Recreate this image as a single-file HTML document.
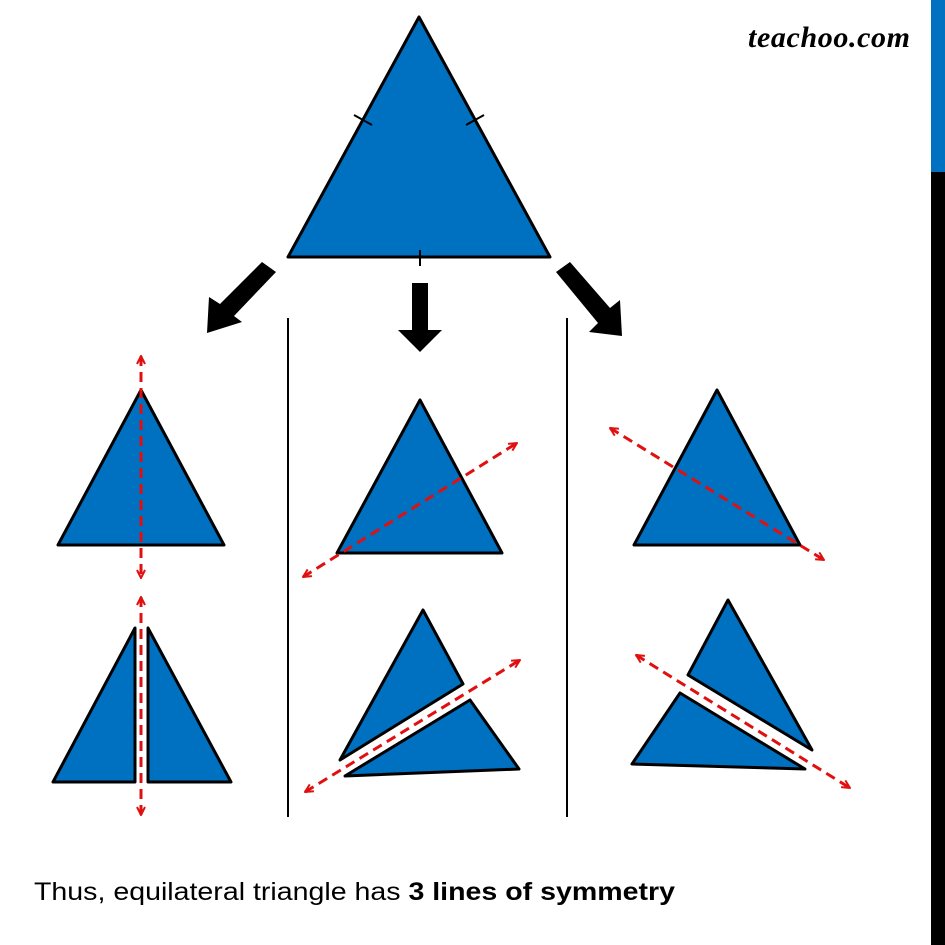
<!DOCTYPE html>
<html><head><style>html,body{margin:0;padding:0;background:#fff}svg{display:block}</style></head>
<body>
<svg width="945" height="945" viewBox="0 0 945 945" xmlns="http://www.w3.org/2000/svg">
<defs>
<marker id="ah" viewBox="0 0 10 10" refX="9" refY="5" markerWidth="10" markerHeight="10" orient="auto-start-reverse" markerUnits="userSpaceOnUse">
<path d="M1,1 L9,5 L1,9" fill="none" stroke="#e01010" stroke-width="2"/>
</marker>
</defs>
<rect x="931" y="0" width="14" height="172" fill="#0070c0"/>
<rect x="931" y="172" width="14" height="773" fill="#000"/>
<text x="748" y="47" font-family="Liberation Serif, serif" font-style="italic" font-weight="bold" font-size="30" fill="#000" textLength="162">teachoo.com</text>
<g fill="#0070c0" stroke="#000" stroke-width="3" stroke-linejoin="round">
<polygon points="419,17 288,257 550,257"/>
<polygon points="141,390 58,545 224,545"/>
<polygon points="420,400 337,553 502,553"/>
<polygon points="717,390 634,545 800,545"/>
<polygon points="135,628 53,782 135,782"/>
<polygon points="148,628 148,782 231,782"/>
<polygon points="423,610 463,684 340,760"/>
<polygon points="470,700 519,769 345,776"/>
<polygon points="728,600 688,675 812,750"/>
<polygon points="680,693 632,764 805,769"/>
</g>
<g stroke="#000" stroke-width="2">
<line x1="354" y1="115" x2="372" y2="125"/>
<line x1="466" y1="125" x2="484" y2="115"/>
<line x1="420" y1="250" x2="420" y2="266"/>
<line x1="288" y1="318" x2="288" y2="817"/>
<line x1="567" y1="318" x2="567" y2="817"/>
</g>
<g fill="#000">
<polygon points="412,283 428,283 428,330 442,330 420,352 398,330 412,330"/>
<polygon points="262,262 276,272 234,316 242,322 207,333 209,297 220,304"/>
<polygon points="556,272 570,262 610,308 620,300 622,336 589,332 598,323"/>
</g>
<g stroke="#e01010" stroke-width="3" stroke-dasharray="10,6" fill="none" marker-start="url(#ah)" marker-end="url(#ah)">
<line x1="141" y1="356" x2="141" y2="578"/>
<line x1="303" y1="577" x2="517" y2="443"/>
<line x1="610" y1="428" x2="824" y2="560"/>
<line x1="141" y1="597" x2="141" y2="815"/>
<line x1="305" y1="792" x2="520" y2="660"/>
<line x1="636" y1="655" x2="850" y2="788"/>
</g>
<text x="34" y="900" font-family="Liberation Sans, sans-serif" font-size="25" fill="#000" textLength="641" lengthAdjust="spacingAndGlyphs">Thus, equilateral triangle has <tspan font-weight="bold">3 lines of symmetry</tspan></text>
</svg>
</body></html>
